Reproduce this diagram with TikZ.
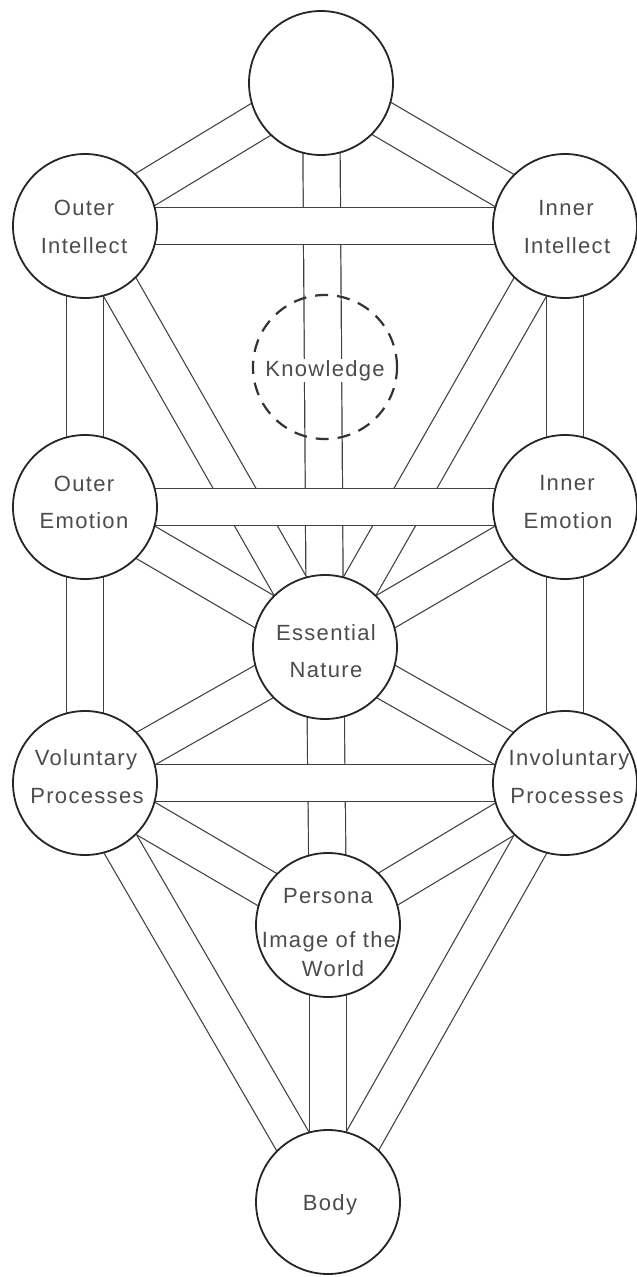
\documentclass[tikz,border=0pt]{standalone}
\usepackage{fontspec}
\newfontfamily\labfont{Liberation Sans}[LetterSpace=6]
\pgfdeclarelayer{bg}
\pgfdeclarelayer{chan}
\pgfdeclarelayer{hchan}
\pgfsetlayers{bg,chan,hchan,main}
\begin{document}
\begin{tikzpicture}[x=1pt,y=-1pt,
  sephira/.style={circle, draw=black!85, line width=1.8pt, fill=white, minimum size=144pt, inner sep=0pt},
  knowcircle/.style={circle, draw=black!80, line width=2.2pt, dash pattern=on 13pt off 9pt, minimum size=144pt, inner sep=0pt},
  channel/.style={draw=black!75, line width=1.2pt, double=white, double distance=36pt},
  lab/.style={font=\labfont\fontsize{22}{26}\selectfont, text=black!70, anchor=base, inner sep=0pt},
]
\useasboundingbox (0,0) rectangle (637,1277);
\begin{pgfonlayer}{bg}
\fill[white] (0,0) rectangle (637,1277);
\end{pgfonlayer}

% sephirot
\node[sephira] (crown)  at (321,83)   {};
\node[sephira] (outint) at (85,226)   {};
\node[sephira] (inint)  at (565,226)  {};
\node[knowcircle] (know) at (325,367) {};
\node[sephira] (outemo) at (85,507)   {};
\node[sephira] (inemo)  at (565,507)  {};
\node[sephira] (ess)    at (325,647)  {};
\node[sephira] (vol)    at (85,783)   {};
\node[sephira] (invol)  at (565,783)  {};
\node[sephira] (pers)   at (328,925)  {};
\node[sephira] (body)   at (328,1202) {};

% channels
\begin{pgfonlayer}{chan}
  \draw[channel] (crown.center) -- (outint.center);
  \draw[channel] (crown.center) -- (inint.center);
  \draw[channel] (crown.center) -- (ess.center);
  \draw[channel] (outint.center) -- (outemo.center);
  \draw[channel] (outint.center) -- (ess.center);
  \draw[channel] (inint.center) -- (inemo.center);
  \draw[channel] (inint.center) -- (ess.center);
  \draw[channel] (outemo.center) -- (ess.center);
  \draw[channel] (outemo.center) -- (vol.center);
  \draw[channel] (inemo.center) -- (ess.center);
  \draw[channel] (inemo.center) -- (invol.center);
  \draw[channel] (ess.center) -- (vol.center);
  \draw[channel] (ess.center) -- (invol.center);
  \draw[channel] (ess.center) -- (pers.center);
  \draw[channel] (vol.center) -- (pers.center);
  \draw[channel] (vol.center) -- (body.center);
  \draw[channel] (invol.center) -- (pers.center);
  \draw[channel] (invol.center) -- (body.center);
  \draw[channel] (pers.center) -- (body.center);
\end{pgfonlayer}
\begin{pgfonlayer}{hchan}
  \draw[channel] (outint.center) -- (inint.center);
  \draw[channel] (outemo.center) -- (inemo.center);
  \draw[channel] (vol.center) -- (invol.center);
\end{pgfonlayer}

% labels
\node[lab] (t1) at (84,215) {Outer};
\node[lab] (t2) at (84,253) {Intellect};
\node[lab] (t3) at (566,215) {Inner};
\node[lab] (t4) at (567,253) {Intellect};
\node[lab, fill=white, inner sep=1pt] (t5) at (325,376) {Knowledge};
\node[lab] (t6) at (84,491) {Outer};
\node[lab] (t7) at (84,528) {Emotion};
\node[lab] (t8) at (567,490) {Inner};
\node[lab] (t9) at (568,528) {Emotion};
\node[lab] (t10) at (326,640) {Essential};
\node[lab] (t11) at (326,677) {Nature};
\node[lab] (t12) at (86,765) {Voluntary};
\node[lab] (t13) at (87,803) {Processes};
\node[lab] (t14) at (569,765) {Involuntary};
\node[lab] (t15) at (567,803) {Processes};
\node[lab] (t16) at (328,903) {Persona};
\node[lab] (t17) at (329,947) {Image of the};
\node[lab] (t18) at (333,976) {World};
\node[lab] (t19) at (330,1210) {Body};
\end{tikzpicture}
\end{document}
